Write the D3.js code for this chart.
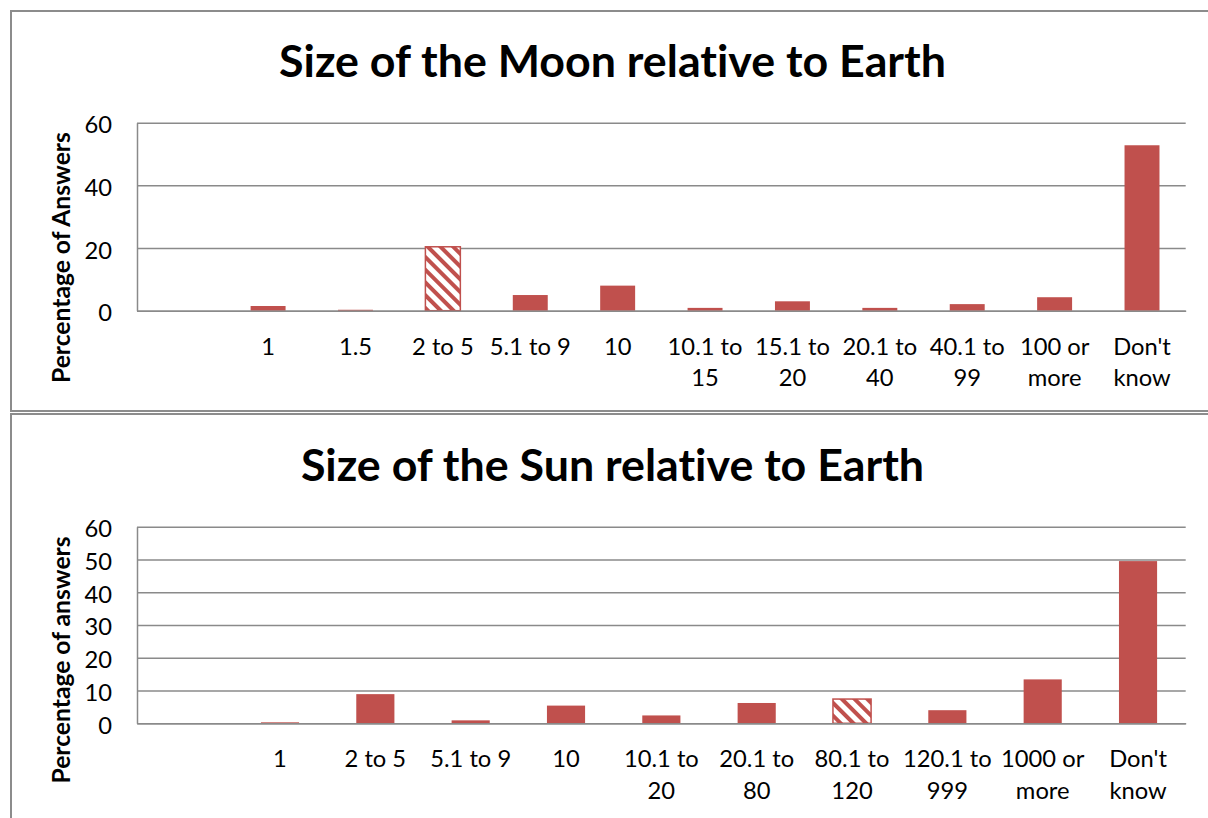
<!DOCTYPE html>
<html><head><meta charset="utf-8">
<script src="https://cdn.jsdelivr.net/npm/d3@7"></script>
<style>body{margin:0;background:#fff} svg{display:block} text{font-variant-ligatures:none;font-feature-settings:"liga" 0}</style>
</head><body>
<svg id="c" width="1208" height="818"></svg>
<script>
// ---- data ----
const moonTitle = "Size of the Moon relative to Earth";
const moonYTitle = "Percentage of Answers";
const moonCategories = ["", "1", "1.5", "2 to 5", "5.1 to 9", "10", "10.1 to\n15", "15.1 to\n20", "20.1 to\n40", "40.1 to\n99", "100 or\nmore", "Don't\nknow"];
const moonValues = [null, 1.5, 0.3, 20.4, 5.0, 8.0, 0.9, 3.0, 0.9, 2.1, 4.3, 52.8];
const moonHatched = ["2 to 5"];
const moonTicks = [0, 20, 40, 60];

const sunTitle = "Size of the Sun relative to Earth";
const sunYTitle = "Percentage of answers";
const sunCategories = ["", "1", "2 to 5", "5.1 to 9", "10", "10.1 to\n20", "20.1 to\n80", "80.1 to\n120", "120.1 to\n999", "1000 or\nmore", "Don't\nknow"];
const sunValues = [null, 0.3, 8.9, 0.9, 5.4, 2.4, 6.2, 7.4, 4.0, 13.4, 49.5];
const sunHatched = ["80.1 to\n120"];
const sunTicks = [0, 10, 20, 30, 40, 50, 60];

// ---- style / layout ----
const FONT = "Lato, 'Open Sans', sans-serif";
const RED = "#C0504D";
const GRID = "#8a8a8a";
const svg = d3.select("#c");

function measure(text, weight) {
  const t = svg.append("text").attr("font-family", FONT).attr("font-weight", weight)
    .attr("font-size", 100).text(text);
  const w = t.node().getComputedTextLength();
  t.remove();
  return w;
}

function draw() {
  const labelSize = 100 * 81 / measure("5.1 to 9", 400);
  const titleSize = 100 * 667 / measure(moonTitle, 700);
  const yTitleSize = 100 * 251 / measure(moonYTitle, 700);

  const defs = svg.append("defs");
  const pat = defs.append("pattern").attr("id", "hatch")
    .attr("patternUnits", "userSpaceOnUse").attr("width", 9).attr("height", 9)
    .attr("patternTransform", "rotate(-45)");
  pat.append("rect").attr("width", 9).attr("height", 9).attr("fill", "#fff");
  pat.append("rect").attr("width", 4).attr("height", 9).attr("fill", RED);

  const panels = [
    {title: moonTitle, yTitle: moonYTitle, cats: moonCategories, vals: moonValues, hatched: moonHatched, ticks: moonTicks,
     frameY: 11, frameH: 400, titleY: 77, top: 122.7, bottom: 310.7, yTitleC: 257.6},
    {title: sunTitle, yTitle: sunYTitle, cats: sunCategories, vals: sunValues, hatched: sunHatched, ticks: sunTicks,
     frameY: 414, frameH: 420, titleY: 481, top: 526.7, bottom: 723.3, yTitleC: 660}
  ];
  const left = 137, right = 1185.7;

  panels.forEach(p => {
    svg.append("rect").attr("x", 11).attr("y", p.frameY).attr("width", 1220).attr("height", p.frameH)
      .attr("fill", "#fff").attr("stroke", "#8c8c8c").attr("stroke-width", 2);

    svg.append("text").attr("x", 612.5).attr("y", p.titleY).attr("text-anchor", "middle")
      .attr("font-family", FONT).attr("font-weight", 700).attr("font-size", titleSize)
      .attr("fill", "#000").text(p.title);

    svg.append("text").attr("transform", `translate(70,${p.yTitleC}) rotate(-90)`)
      .attr("text-anchor", "middle").attr("font-family", FONT).attr("font-weight", 700)
      .attr("font-size", yTitleSize).attr("fill", "#000").text(p.yTitle);

    const x = d3.scaleBand().domain(p.cats).range([left, right]).paddingInner(0.6).paddingOuter(0.3);
    const y = d3.scaleLinear().domain([0, 60]).range([p.bottom, p.top]);

    const ga = svg.append("g").attr("transform", `translate(${left},0)`)
      .call(d3.axisLeft(y).tickValues(p.ticks).tickSize(-(right - left)).tickSizeOuter(0).tickPadding(25));
    ga.selectAll("line").attr("stroke", GRID).attr("stroke-width", 1.5);
    ga.select(".domain").attr("stroke", GRID).attr("stroke-width", 1.5);
    ga.selectAll("text").attr("font-family", FONT).attr("font-size", labelSize)
      .attr("fill", "#000").attr("dy", "0.42em");

    const data = p.cats.map((c, i) => ({c, v: p.vals[i]})).filter(d => d.v != null);
    svg.append("g").selectAll("rect").data(data).join("rect")
      .attr("x", d => x(d.c)).attr("width", x.bandwidth())
      .attr("y", d => y(d.v)).attr("height", d => y(0) - y(d.v))
      .attr("fill", d => p.hatched.includes(d.c) ? "url(#hatch)" : RED)
      .attr("stroke", d => p.hatched.includes(d.c) ? RED : "none")
      .attr("stroke-width", 1.5);

    const gx = svg.append("g").attr("transform", `translate(0,${p.bottom})`)
      .call(d3.axisBottom(x).tickSize(0).tickSizeOuter(0));
    gx.select(".domain").attr("stroke", GRID).attr("stroke-width", 1.5);
    gx.selectAll(".tick text").attr("dy", null).attr("y", null)
      .attr("font-family", FONT).attr("font-size", labelSize).attr("fill", "#000")
      .each(function(d) {
        const t = d3.select(this).text(null);
        d.split("\n").forEach((line, i) => {
          t.append("tspan").attr("x", 0).attr("y", 44 + i * 31.7).text(line);
        });
      });
  });
}

if (document.fonts && document.fonts.ready) document.fonts.ready.then(draw); else draw();
</script>
</body></html>
